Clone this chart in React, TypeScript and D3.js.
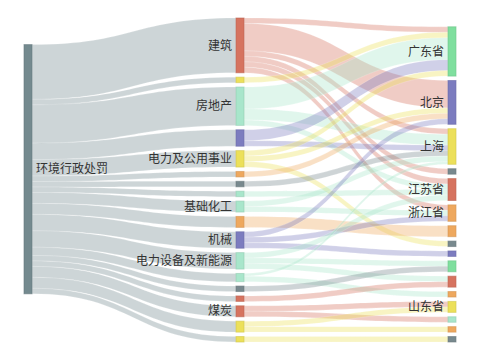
import React from "react";
import * as d3 from "d3";

// ---- data ----
const sourceNames = ["环境行政处罚"];
const sourceColors = ["#748a8f"];

const industryNames = [
  "建筑", "行业A", "房地产", "行业B", "电力及公用事业", "行业C", "行业D", "行业E",
  "基础化工", "行业F", "机械", "电力设备及新能源", "行业G", "行业H", "行业I", "煤炭", "行业J", "行业K",
];
const industryColors = [
  "#d6735f", "#ece05a", "#a8e6cb", "#7c7cbf", "#ece05a", "#eea85e", "#78898e", "#a8e6cb",
  "#a8e6cb", "#eea85e", "#7c7cbf", "#a8e6cb", "#a8e6cb", "#78898e", "#d6735f", "#d6735f", "#ece05a", "#ece05a",
];

const provinceNames = [
  "广东省", "北京", "上海", "省份A", "江苏省", "浙江省", "省份B", "省份C",
  "省份D", "省份E", "省份F", "省份G", "山东省", "省份H", "省份I", "省份J",
];
const provinceColors = [
  "#7fdf9e", "#7c7cbf", "#ece05a", "#78898e", "#d6735f", "#eea85e", "#eea85e", "#78898e",
  "#7c7cbf", "#7fdf9e", "#d6735f", "#eea85e", "#ece05a", "#a8e6cb", "#eea85e", "#78898e",
];

const hiddenLabels = [
  "行业A", "行业B", "行业C", "行业D", "行业E", "行业F", "行业G", "行业H", "行业I", "行业J", "行业K",
  "省份A", "省份B", "省份C", "省份D", "省份E", "省份F", "省份G", "省份H", "省份I", "省份J",
];

// industry -> province flows
const flowSource = [
  "建筑", "建筑", "建筑", "建筑", "建筑", "建筑",
  "行业A",
  "房地产", "房地产", "房地产",
  "行业B", "行业B",
  "电力及公用事业", "电力及公用事业", "电力及公用事业",
  "行业C", "行业D", "行业E",
  "基础化工", "基础化工",
  "行业F",
  "机械", "机械", "机械",
  "电力设备及新能源", "电力设备及新能源", "电力设备及新能源",
  "行业G", "行业G",
  "行业H", "行业I",
  "煤炭", "煤炭",
  "行业J", "行业J",
  "行业K",
];
const flowTarget = [
  "广东省", "北京", "上海", "省份A", "江苏省", "浙江省",
  "广东省",
  "广东省", "上海", "江苏省",
  "广东省", "上海",
  "广东省", "北京", "省份C",
  "北京", "上海", "江苏省",
  "上海", "浙江省",
  "省份B",
  "北京", "浙江省", "省份D",
  "江苏省", "省份E", "省份F",
  "上海", "省份G",
  "省份E", "省份F",
  "山东省", "省份H",
  "山东省", "省份I",
  "省份J",
];
const flowValue = [
  1, 5, 1, 1, 1, 1,
  1,
  4, 2, 1,
  2, 1,
  1, 1, 1,
  1, 1, 1,
  1, 1,
  2,
  1, 1, 1,
  1, 1, 1,
  0.5, 1,
  1, 1,
  1, 1,
  1, 1,
  1,
];

// ---- layout ----
const W = 480, H = 360;
const top = 18, bottom = 342, left = 24, right = 456;
const nodeW = 8;
const gap = 4.4;

type N = { name: string; color: string; col: number; value: number; x: number; y0: number; y1: number; out: L[]; inn: L[] };
type L = { s: N; t: N; value: number; sy0: number; sy1: number; ty0: number; ty1: number; color: string };

function layout() {
  const nodes = new Map<string, N>();
  const cols: N[][] = [[], [], []];
  const xs = d3.scaleLinear().domain([0, 2]).range([left, right - nodeW]);
  [[sourceNames, sourceColors], [industryNames, industryColors], [provinceNames, provinceColors]].forEach(([names, colors], c) => {
    (names as string[]).forEach((n, i) => {
      const node: N = { name: n, color: (colors as string[])[i], col: c, value: 0, x: xs(c), y0: 0, y1: 0, out: [], inn: [] };
      nodes.set(n, node);
      cols[c].push(node);
    });
  });
  const links: L[] = [];
  const add = (s: string, t: string, v: number) => {
    const l: L = { s: nodes.get(s)!, t: nodes.get(t)!, value: v, sy0: 0, sy1: 0, ty0: 0, ty1: 0, color: nodes.get(s)!.color };
    l.s.out.push(l); l.t.inn.push(l); links.push(l);
  };
  flowSource.forEach((s, i) => add(s, flowTarget[i], flowValue[i]));
  // left -> industry flows carry each industry's total
  industryNames.forEach((n) => {
    const tot = d3.sum(flowSource.map((s, i) => (s === n ? flowValue[i] : 0)));
    add(sourceNames[0], n, tot);
  });
  nodes.forEach((n) => { n.value = Math.max(d3.sum(n.out, (l) => l.value), d3.sum(n.inn, (l) => l.value)); });

  const midTotal = d3.sum(cols[1], (n) => n.value);
  const ky = d3.scaleLinear().domain([0, midTotal]).range([0, bottom - top - (cols[1].length - 1) * gap]);

  // middle column: fill from top
  let y = top;
  cols[1].forEach((n) => { n.y0 = y; n.y1 = y + ky(n.value); y = n.y1 + gap; });
  // right column: packed against the bottom
  const rightSpan = d3.sum(cols[2], (n) => ky(n.value)) + (cols[2].length - 1) * gap;
  y = bottom - rightSpan;
  cols[2].forEach((n) => { n.y0 = y; n.y1 = y + ky(n.value); y = n.y1 + gap; });
  // left node: centered on weighted mean of its targets
  cols[0].forEach((n) => {
    const c = d3.sum(n.out, (l) => l.value * (l.t.y0 + l.t.y1) / 2) / d3.sum(n.out, (l) => l.value);
    const h = ky(n.value);
    n.y0 = c - h / 2; n.y1 = c + h / 2;
  });
  nodes.forEach((n) => {
    let yy = n.y0;
    [...n.out].sort((a, b) => a.t.y0 - b.t.y0).forEach((l) => { l.sy0 = yy; yy += ky(l.value); l.sy1 = yy; });
    yy = n.y0;
    [...n.inn].sort((a, b) => a.s.y0 - b.s.y0).forEach((l) => { l.ty0 = yy; yy += ky(l.value); l.ty1 = yy; });
  });
  return { nodes: [...nodes.values()], links };
}

function linkPath(l: L) {
  const x0 = l.s.x + nodeW, x1 = l.t.x;
  const xm = x0 + (x1 - x0) * 0.5;
  const p = d3.path();
  p.moveTo(x0, l.sy0);
  p.bezierCurveTo(xm, l.sy0, xm, l.ty0, x1, l.ty0);
  p.lineTo(x1, l.ty1);
  p.bezierCurveTo(xm, l.ty1, xm, l.sy1, x0, l.sy1);
  p.closePath();
  return p.toString();
}

export default function App() {
  const { nodes, links } = layout();
  return (
    <svg width={W} height={H} style={{ position: "fixed", left: 0, top: 0, background: "#fff" }}
      fontFamily="'Noto Sans CJK SC', 'Noto Sans', sans-serif">
      <g>
        {links.map((l, i) => (
          <path key={i} d={linkPath(l)} fill={l.color} fillOpacity={0.36}
            stroke="#fff" strokeOpacity={0.35} strokeWidth={0.5} />
        ))}
      </g>
      <g>
        {nodes.map((n) => (
          <rect key={n.name} x={n.x} y={n.y0} width={nodeW} height={n.y1 - n.y0}
            fill={n.color} stroke={d3.color(n.color)!.darker(0.35).formatHex()} strokeWidth={1} strokeOpacity={0.6} />
        ))}
      </g>
      <g fontSize={12} fill="#333">
        {nodes.filter((n) => !hiddenLabels.includes(n.name)).map((n) => (
          <text key={n.name}
            x={n.col === 0 ? n.x + nodeW + 4 : n.x - 4}
            y={(n.y0 + n.y1) / 2}
            dy="0.35em"
            textAnchor={n.col === 0 ? "start" : "end"}>{n.name}</text>
        ))}
      </g>
    </svg>
  );
}
